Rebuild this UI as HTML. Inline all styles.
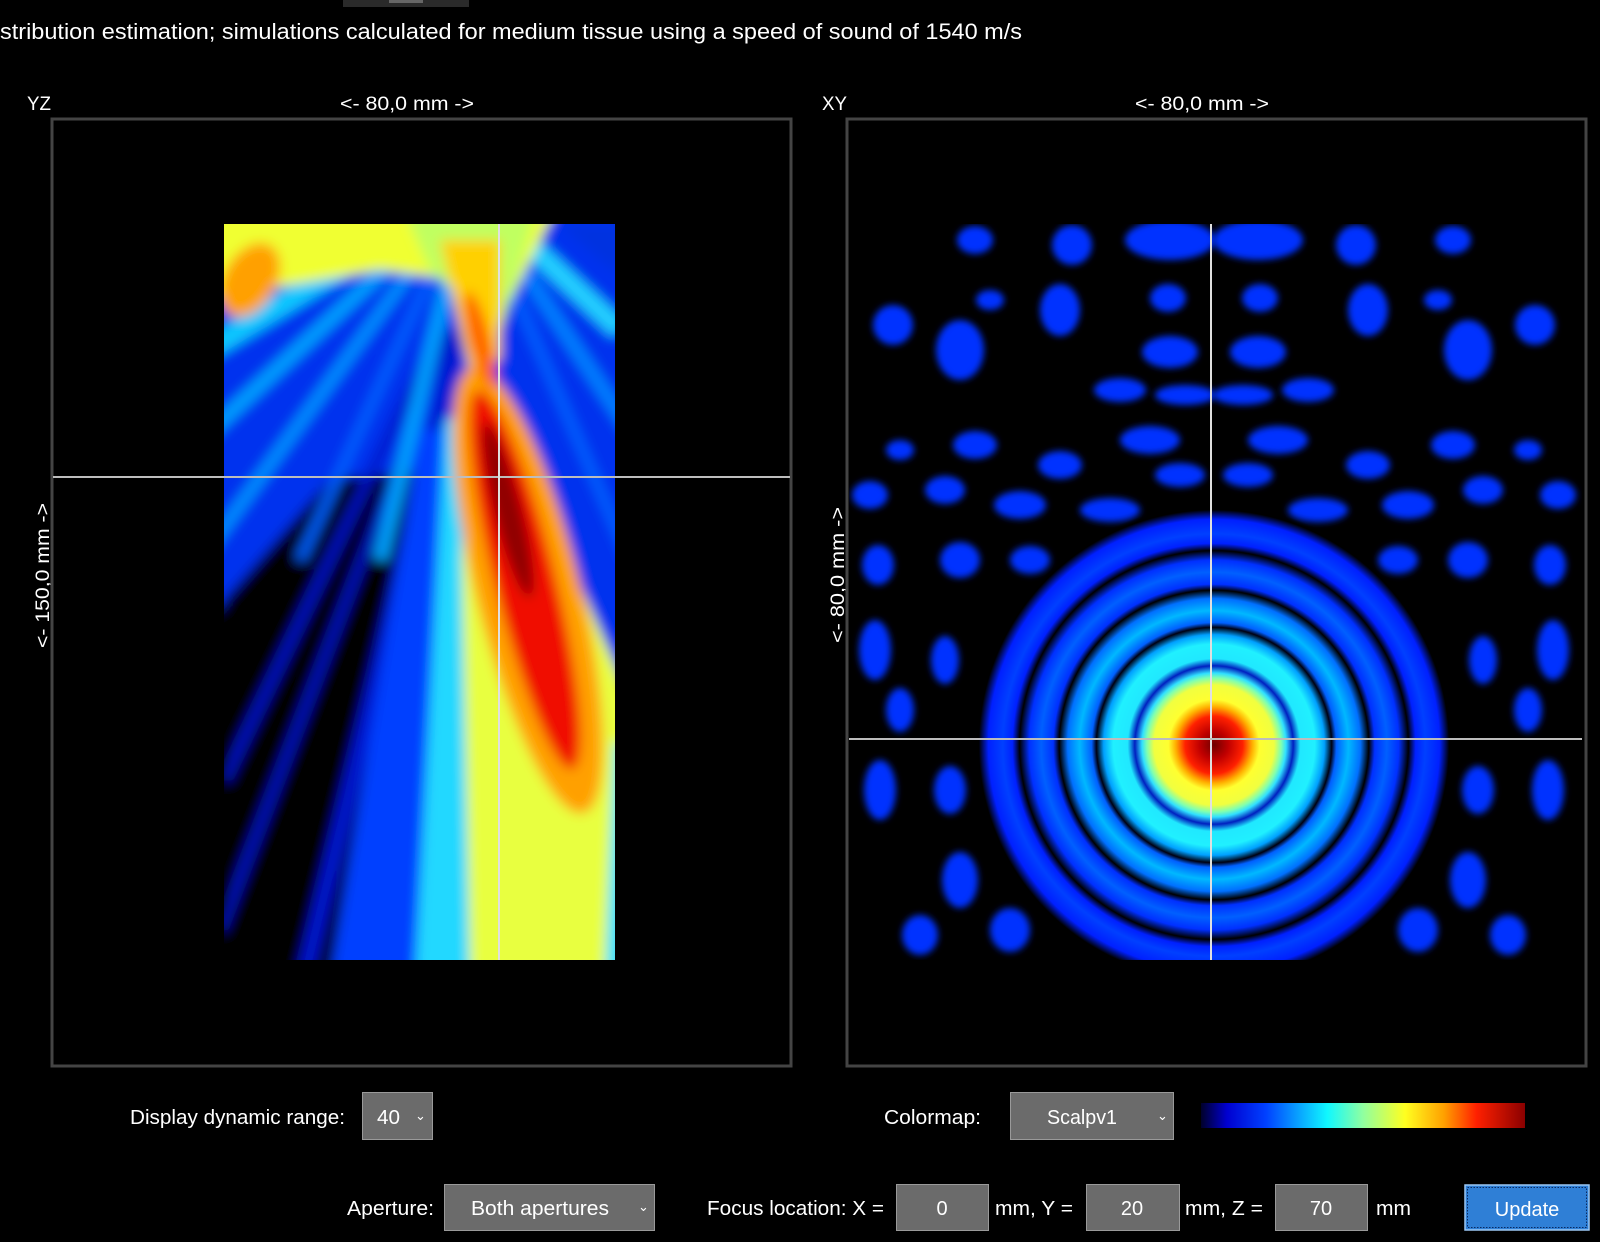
<!DOCTYPE html>
<html><head><meta charset="utf-8"><style>
html,body{margin:0;padding:0;background:#000;}
svg{display:block}
text{font-family:"Liberation Sans",sans-serif;fill:#fff}
</style></head><body>
<svg width="1600" height="1242" viewBox="0 0 1600 1242" xmlns="http://www.w3.org/2000/svg">
<defs>
<clipPath id="cyz"><rect x="224" y="224" width="391" height="736"/></clipPath>
<clipPath id="cxy"><rect x="849" y="224" width="733" height="736"/></clipPath>
<filter id="b6" x="-20%" y="-20%" width="140%" height="140%"><feGaussianBlur stdDeviation="6"/></filter>
<filter id="b3" x="-30%" y="-30%" width="160%" height="160%"><feGaussianBlur stdDeviation="3.5"/></filter>
<linearGradient id="cbar" x1="0" x2="1" y1="0" y2="0">
<stop offset="0" stop-color="#00002a"/><stop offset="0.08" stop-color="#0000d0"/><stop offset="0.2" stop-color="#0040ff"/>
<stop offset="0.39" stop-color="#10f8ff"/><stop offset="0.5" stop-color="#90ffa0"/><stop offset="0.63" stop-color="#ffff20"/>
<stop offset="0.75" stop-color="#ffa000"/><stop offset="0.85" stop-color="#ff2000"/><stop offset="1" stop-color="#8a0000"/>
</linearGradient>
<radialGradient id="rings" cx="1214" cy="745" r="240" fx="1214" fy="745" gradientUnits="userSpaceOnUse">
<stop offset="0" stop-color="#700000"/><stop offset="0.06" stop-color="#c00000"/><stop offset="0.12" stop-color="#ff2000"/>
<stop offset="0.16" stop-color="#ffb000"/><stop offset="0.19" stop-color="#ffff30"/><stop offset="0.25" stop-color="#f0ff40"/>
<stop offset="0.28" stop-color="#80ffb0"/><stop offset="0.30" stop-color="#30e0ff"/><stop offset="0.33" stop-color="#0020c0"/>
<stop offset="0.36" stop-color="#20e8ff"/><stop offset="0.42" stop-color="#20f0ff"/><stop offset="0.46" stop-color="#00a0ff"/>
<stop offset="0.49" stop-color="#000010"/><stop offset="0.51" stop-color="#0060ff"/><stop offset="0.56" stop-color="#00b8ff"/>
<stop offset="0.61" stop-color="#0070ff"/><stop offset="0.645" stop-color="#000000"/><stop offset="0.67" stop-color="#0030ff"/>
<stop offset="0.72" stop-color="#0060ff"/><stop offset="0.77" stop-color="#0030ff"/><stop offset="0.81" stop-color="#000"/>
<stop offset="0.84" stop-color="#0020ff"/><stop offset="0.88" stop-color="#0040ff"/><stop offset="0.94" stop-color="#0020ff"/>
<stop offset="0.98" stop-color="#000"/><stop offset="1" stop-color="#000" stop-opacity="0"/>
</radialGradient>
</defs>

<rect x="343" y="0" width="126" height="7" fill="#2a2a2a"/>
<rect x="389" y="0" width="34" height="3" fill="#666"/>

<text x="0" y="39" font-size="22" textLength="1022" lengthAdjust="spacingAndGlyphs">stribution estimation; simulations calculated for medium tissue using a speed of sound of 1540 m/s</text>

<text x="27" y="110" font-size="19" textLength="24" lengthAdjust="spacingAndGlyphs">YZ</text>
<text x="340" y="110" font-size="19" textLength="134" lengthAdjust="spacingAndGlyphs">&lt;- 80,0 mm -&gt;</text>
<text x="822" y="110" font-size="19" textLength="25" lengthAdjust="spacingAndGlyphs">XY</text>
<text x="1135" y="110" font-size="19" textLength="134" lengthAdjust="spacingAndGlyphs">&lt;- 80,0 mm -&gt;</text>
<text transform="translate(49,648) rotate(-90)" font-size="19" textLength="145" lengthAdjust="spacingAndGlyphs">&lt;- 150,0 mm -&gt;</text>
<text transform="translate(844,643) rotate(-90)" font-size="19" textLength="136" lengthAdjust="spacingAndGlyphs">&lt;- 80,0 mm -&gt;</text>

<rect x="52" y="119" width="739" height="947" fill="none" stroke="#444" stroke-width="3"/>
<rect x="847" y="119" width="739" height="947" fill="none" stroke="#444" stroke-width="3"/>

<!-- YZ field -->
<g clip-path="url(#cyz)">
<rect x="224" y="224" width="391" height="736" fill="#000"/>
<g filter="url(#b6)">
<polygon points="200,200 640,200 640,600 570,980 330,980 430,470 200,620" fill="#0030ee"/>
<polygon points="224,600 224,990 330,990 430,470 330,480" fill="#000"/>
<line x1="440" y1="330" x2="224" y2="780" stroke="#0018c8" stroke-width="10"/>
<line x1="450" y1="330" x2="220" y2="930" stroke="#0018c8" stroke-width="9"/>
<line x1="460" y1="330" x2="305" y2="975" stroke="#0018d0" stroke-width="16"/>
<!-- left rays -->
<g stroke-linecap="butt">
<line x1="470" y1="190" x2="190" y2="360" stroke="#10c8ff" stroke-width="22"/>
<line x1="470" y1="190" x2="190" y2="450" stroke="#00a0ff" stroke-width="14"/>
<line x1="470" y1="190" x2="200" y2="560" stroke="#0090ff" stroke-width="12"/>
<line x1="470" y1="190" x2="300" y2="560" stroke="#0060ff" stroke-width="10"/>
<line x1="470" y1="190" x2="380" y2="560" stroke="#00a0ff" stroke-width="14"/>
<line x1="470" y1="190" x2="620" y2="330" stroke="#20d0ff" stroke-width="20"/>
<line x1="470" y1="190" x2="630" y2="430" stroke="#0080ff" stroke-width="14"/>
<line x1="470" y1="190" x2="630" y2="560" stroke="#0060ff" stroke-width="10"/>
</g>
<polygon points="330,980 420,980 450,430 420,430" fill="#0040ff"/>
<polygon points="415,980 505,980 505,560 470,410 445,420" fill="#20d8ff"/>
<polygon points="470,980 612,980 630,700 560,540 500,400 470,390 462,560" fill="#e8ff40"/>
<polygon points="605,980 640,980 640,760 615,740" fill="#30e0ff"/>
<polygon points="200,200 560,200 510,300 460,280 380,270 200,300" fill="#f0ff30"/>
<polygon points="400,200 540,200 500,330 430,270" fill="#c0ff60"/>
<polygon points="440,240 500,240 500,360 470,370" fill="#ffd000"/>
<ellipse cx="250" cy="280" rx="26" ry="40" fill="#ffa000" transform="rotate(30 250 280)"/>
<polygon points="560,224 640,224 640,290 600,260" fill="#0030e0"/>
<ellipse cx="528" cy="590" rx="52" ry="230" fill="#ffa000" transform="rotate(-14 528 590)"/>
<ellipse cx="525" cy="580" rx="30" ry="195" fill="#f01000" transform="rotate(-14 525 580)"/>
<ellipse cx="508" cy="510" rx="14" ry="90" fill="#900000" transform="rotate(-14 508 510)"/>
<ellipse cx="480" cy="340" rx="10" ry="50" fill="#ff6000" transform="rotate(-14 480 340)"/>
</g>
</g>
<line x1="53" y1="477" x2="790" y2="477" stroke="#bdbdbd" stroke-width="2"/>
<line x1="499" y1="224" x2="499" y2="960" stroke="#e0e0e0" stroke-width="2"/>

<!-- XY field -->
<g clip-path="url(#cxy)">
<rect x="849" y="224" width="733" height="736" fill="#000"/>
<g id="blobs" filter="url(#b3)" fill="#0030ff">
<ellipse cx="975" cy="240" rx="18" ry="14"/>
<ellipse cx="1072" cy="245" rx="20" ry="20"/>
<ellipse cx="1170" cy="240" rx="45" ry="20"/>
<ellipse cx="893" cy="325" rx="20" ry="20"/>
<ellipse cx="960" cy="350" rx="24" ry="30"/>
<ellipse cx="990" cy="300" rx="14" ry="10"/>
<ellipse cx="1060" cy="310" rx="20" ry="26"/>
<ellipse cx="1168" cy="298" rx="18" ry="14"/>
<ellipse cx="1170" cy="352" rx="28" ry="16"/>
<ellipse cx="1120" cy="390" rx="26" ry="12"/>
<ellipse cx="1185" cy="395" rx="30" ry="10"/>
<ellipse cx="900" cy="450" rx="14" ry="10"/>
<ellipse cx="975" cy="445" rx="22" ry="14"/>
<ellipse cx="1060" cy="465" rx="22" ry="14"/>
<ellipse cx="1150" cy="440" rx="30" ry="14"/>
<ellipse cx="1180" cy="475" rx="25" ry="12"/>
<ellipse cx="870" cy="495" rx="18" ry="14"/>
<ellipse cx="945" cy="490" rx="20" ry="14"/>
<ellipse cx="1020" cy="505" rx="26" ry="14"/>
<ellipse cx="1110" cy="510" rx="30" ry="12"/>
<ellipse cx="878" cy="565" rx="16" ry="20"/>
<ellipse cx="960" cy="560" rx="20" ry="18"/>
<ellipse cx="1030" cy="560" rx="20" ry="14"/>
<ellipse cx="875" cy="650" rx="16" ry="30"/>
<ellipse cx="900" cy="710" rx="14" ry="22"/>
<ellipse cx="880" cy="790" rx="16" ry="30"/>
<ellipse cx="950" cy="790" rx="16" ry="24"/>
<ellipse cx="960" cy="880" rx="18" ry="28"/>
<ellipse cx="920" cy="935" rx="18" ry="20"/>
<ellipse cx="1010" cy="930" rx="20" ry="22"/>
<ellipse cx="945" cy="660" rx="14" ry="24"/>
</g>
<use href="#blobs" transform="translate(2428 0) scale(-1 1)"/>
<circle cx="1214" cy="745" r="240" fill="url(#rings)"/>
</g>
<line x1="1211" y1="224" x2="1211" y2="960" stroke="#e0e0e0" stroke-width="2"/>
<line x1="849" y1="739" x2="1582" y2="739" stroke="#bdbdbd" stroke-width="2"/>

<text x="130" y="1124" font-size="20" textLength="215" lengthAdjust="spacingAndGlyphs">Display dynamic range:</text>
<rect x="362.5" y="1092.5" width="70" height="47" fill="#6b6b6b" stroke="#9a9a9a" stroke-width="1"/>
<text x="377" y="1124" font-size="20" textLength="23" lengthAdjust="spacingAndGlyphs">40</text>
<text x="415" y="1120" font-size="13">⌄</text>
<text x="884" y="1124" font-size="20" textLength="97" lengthAdjust="spacingAndGlyphs">Colormap:</text>
<rect x="1010.5" y="1092.5" width="163" height="47" fill="#6b6b6b" stroke="#9a9a9a" stroke-width="1"/>
<text x="1047" y="1124" font-size="20" textLength="70" lengthAdjust="spacingAndGlyphs">Scalpv1</text>
<text x="1157" y="1120" font-size="13">⌄</text>
<rect x="1201" y="1103" width="324" height="25" fill="url(#cbar)"/>

<text x="347" y="1215" font-size="20" textLength="87" lengthAdjust="spacingAndGlyphs">Aperture:</text>
<rect x="444.5" y="1184.5" width="210" height="46" fill="#6b6b6b" stroke="#9a9a9a" stroke-width="1"/>
<text x="471" y="1215" font-size="20" textLength="138" lengthAdjust="spacingAndGlyphs">Both apertures</text>
<text x="638" y="1211" font-size="13">⌄</text>
<text x="707" y="1215" font-size="20" textLength="177" lengthAdjust="spacingAndGlyphs">Focus location: X =</text>
<rect x="896.5" y="1184.5" width="92" height="46" fill="#6b6b6b" stroke="#9a9a9a" stroke-width="1"/>
<text x="942" y="1215" font-size="20" text-anchor="middle">0</text>
<text x="995" y="1215" font-size="20" textLength="78" lengthAdjust="spacingAndGlyphs">mm, Y =</text>
<rect x="1086.5" y="1184.5" width="93" height="46" fill="#6b6b6b" stroke="#9a9a9a" stroke-width="1"/>
<text x="1132" y="1215" font-size="20" text-anchor="middle">20</text>
<text x="1185" y="1215" font-size="20" textLength="78" lengthAdjust="spacingAndGlyphs">mm, Z =</text>
<rect x="1275.5" y="1184.5" width="92" height="46" fill="#6b6b6b" stroke="#9a9a9a" stroke-width="1"/>
<text x="1321" y="1215" font-size="20" text-anchor="middle">70</text>
<text x="1376" y="1215" font-size="20" textLength="35" lengthAdjust="spacingAndGlyphs">mm</text>
<rect x="1465" y="1185" width="124" height="45" fill="#2f7fd6" stroke="#9cc8f5" stroke-width="1.5"/>
<rect x="1467.5" y="1187.5" width="119" height="40" fill="none" stroke="#0a2a60" stroke-width="1" stroke-dasharray="1.5 1.5"/>
<text x="1527" y="1216" font-size="20" text-anchor="middle">Update</text>
</svg>
</body></html>
